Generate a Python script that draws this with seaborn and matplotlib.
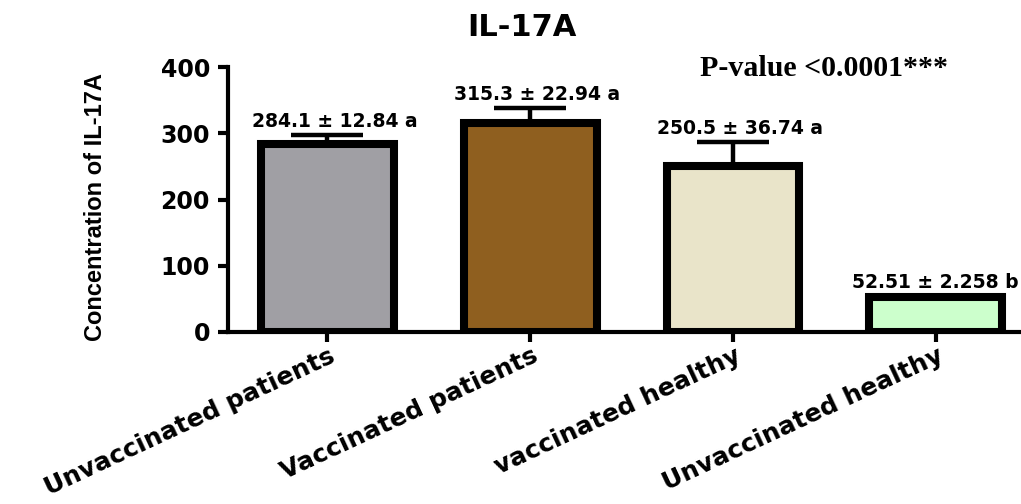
import numpy as np
import matplotlib
matplotlib.use("Agg")
import matplotlib.pyplot as plt
import matplotlib.transforms as mtransforms
import seaborn as sns

# IL-17A concentration per group (mean ± SEM, significance letter)
groups = ["Unvaccinated patients", "Vaccinated patients", "vaccinated healthy", "Unvaccinated healthy"]
means = [284.1, 315.3, 250.5, 52.51]
sems = [12.84, 22.94, 36.74, 2.258]
letters = ["a", "a", "a", "b"]
bar_colors = ["#A09FA4", "#8F5F1F", "#E9E4C9", "#CCFFCC"]
y_ticks = [0, 100, 200, 300, 400]

sns.set_theme(style="ticks")
plt.rcParams["font.family"] = ["DejaVu Sans"]
for key in ["text.color", "axes.labelcolor", "xtick.color", "ytick.color", "axes.edgecolor"]:
    plt.rcParams[key] = "black"

fig = plt.figure(figsize=(10.21, 5.04), dpi=100)
ax = fig.add_axes([0.2233, 0.3413, 0.7767, 0.5257])

sns.barplot(x=groups, y=means, hue=groups, palette=bar_colors, legend=False,
            width=0.655, edgecolor="black", linewidth=5.8, saturation=1, ax=ax)

xpos = np.arange(len(groups))
ax.errorbar(xpos, means, yerr=[np.zeros(len(sems)), sems], fmt="none",
            ecolor="black", elinewidth=3.2, capsize=26, capthick=3.2, zorder=3)

# value labels above each error bar
value_labels = []
for x, m, s, l in zip(xpos, means, sems, letters):
    t = ax.annotate(f"{m:g} ± {s:g} {l}", xy=(x, m + s), xytext=(5, 3),
                    textcoords="offset points", ha="center", va="bottom",
                    fontsize=13.5, fontweight="bold", color="black",
                    annotation_clip=False)
    value_labels.append(t)

ax.set_xlim(-0.49, 3.42)
ax.set_ylim(0, 400)
ax.set_yticks(y_ticks)
ax.set_yticklabels([str(t) for t in y_ticks], fontsize=17, fontweight="bold")

for side in ["top", "right"]:
    ax.spines[side].set_visible(False)
for side in ["left", "bottom"]:
    ax.spines[side].set_linewidth(3)
ax.tick_params(axis="both", direction="out", length=7, width=3, color="black")
ax.tick_params(axis="y", pad=6)

ax.set_xticks(xpos)
ax.set_xticklabels(groups, rotation=25, ha="right", va="top",
                   rotation_mode="anchor", fontsize=18, fontweight="bold")
offset = mtransforms.ScaledTranslation(1 / 72, 2 / 72, fig.dpi_scale_trans)
for lbl in ax.get_xticklabels():
    lbl.set_transform(lbl.get_transform() + offset)

ax.set_xlabel("")
ax.set_ylabel("Concentration of IL-17A", fontsize=17, fontweight="bold",
              family=["Liberation Sans", "DejaVu Sans"])
ax.yaxis.set_label_coords(-0.152, 0.47)

fig.text(0.511, 0.945, "IL-17A", ha="center", va="center",
         fontsize=22, fontweight="bold")
fig.text(0.807, 0.865, "P-value <0.0001***", ha="center", va="center",
         fontsize=21.5, fontweight="bold",
         family=["Liberation Serif", "DejaVu Serif"])

# keep value labels inside the figure's right edge
fig.canvas.draw()
renderer = fig.canvas.get_renderer()
fig_w = fig.bbox.width
for t in value_labels:
    bb = t.get_window_extent(renderer)
    overflow = bb.x1 - (fig_w - 2)
    if overflow > 0:
        dx, dy = t.xyann
        t.xyann = (dx - overflow * 72 / fig.dpi, dy)

fig.savefig("out.png", dpi=100, facecolor="white")
